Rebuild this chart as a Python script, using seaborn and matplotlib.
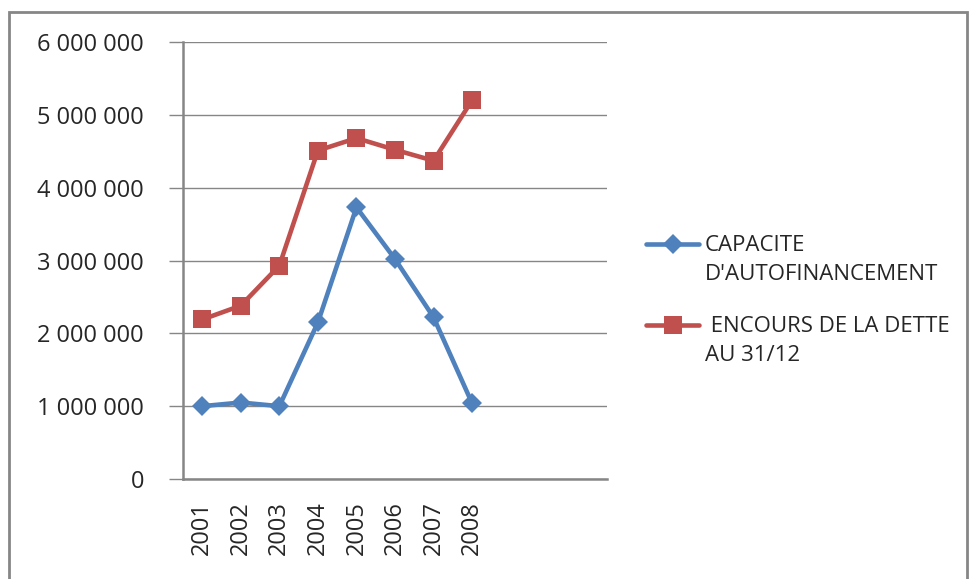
import matplotlib
matplotlib.use("Agg")
import matplotlib.pyplot as plt
import seaborn as sns
import pandas as pd
import numpy as np
from matplotlib.patches import Rectangle
from matplotlib.lines import Line2D
from matplotlib.legend_handler import HandlerLine2D

years = ["2001", "2002", "2003", "2004", "2005", "2006", "2007", "2008"]
capacite = [1000000, 1050000, 1000000, 2150000, 3730000, 3020000, 2220000, 1040000]
encours = [2190000, 2380000, 2930000, 4510000, 4680000, 4520000, 4370000, 5200000]
series_names = ["CAPACITE\nD'AUTOFINANCEMENT", " ENCOURS DE LA DETTE\nAU 31/12"]
n_slots = 11

df = pd.DataFrame({
    "year": years * 2,
    "pos": list(range(len(years))) * 2,
    "value": capacite + encours,
    "serie": [series_names[0]] * len(years) + [series_names[1]] * len(years),
})

sns.set_theme(style="white")
plt.rcParams["font.family"] = ["Open Sans", "DejaVu Sans"]

fig = plt.figure(figsize=(9.73, 5.79), dpi=100)
ax = fig.add_axes([183/973, 1-479/579, (607-183)/973, (479-42)/579])

palette = {series_names[0]: "#4F81BD", series_names[1]: "#C0504D"}
markers = {series_names[0]: "D", series_names[1]: "s"}
sizes_m = {series_names[0]: 10.5, series_names[1]: 13.5}

for name in series_names:
    sub = df[df["serie"] == name]
    sns.lineplot(data=sub, x="pos", y="value", ax=ax, color=palette[name],
                 marker=markers[name], markersize=sizes_m[name], linewidth=3.3,
                 markeredgewidth=0, label=name)

ax.set_xlim(-0.5, n_slots - 0.5)
ax.set_ylim(0, 6000000)
ax.set_yticks(range(0, 6000001, 1000000))
ax.set_yticklabels([f"{v:,}".replace(",", " ") for v in range(0, 6000001, 1000000)], fontsize=17)
ax.yaxis.grid(True, color="#868686", linewidth=1)
ax.set_axisbelow(True)

ax.set_xticks(range(len(years)))
ax.set_xticklabels(years, rotation=90, fontsize=17)
ax.set_xticks([i - 0.5 for i in range(n_slots + 1)], minor=True)
ax.tick_params(axis="x", which="major", length=0, pad=16)
ax.tick_params(axis="x", which="minor", length=7, width=1.5, color="#868686", direction="out")
ax.tick_params(axis="y", length=10, width=1, color="#868686", direction="out", pad=18, left=True)
ax.set_xlabel("")
ax.set_ylabel("")

for s in ["top", "right"]:
    ax.spines[s].set_visible(False)
for s in ["left", "bottom"]:
    ax.spines[s].set_color("#868686")
    ax.spines[s].set_linewidth(1.8)


class FirstLineHandler(HandlerLine2D):
    def __init__(self, dy, **kw):
        super().__init__(**kw)
        self.dy = dy

    def create_artists(self, legend, orig_handle, xdescent, ydescent, width, height, fontsize, trans):
        arts = super().create_artists(legend, orig_handle, xdescent, ydescent, width, height, fontsize, trans)
        for a in arts:
            a.set_ydata(np.asarray(a.get_ydata(), dtype=float) + self.dy)
        return arts


leg = ax.legend(loc="upper left", bbox_to_anchor=(637/973, 1-226/579), bbox_transform=fig.transFigure,
                frameon=False, fontsize=16, handlelength=2.4, handletextpad=0.25,
                labelspacing=1.4, borderaxespad=0,
                handler_map={Line2D: FirstLineHandler(11.5)})
for t in leg.get_texts():
    t.set_linespacing(1.5)

fig.patches.append(Rectangle((9/973, -0.05), (967-9)/973, 1.05 - 12/579, transform=fig.transFigure,
                             fill=False, edgecolor="#868686", linewidth=2))

fig.savefig("out.png", dpi=100)
